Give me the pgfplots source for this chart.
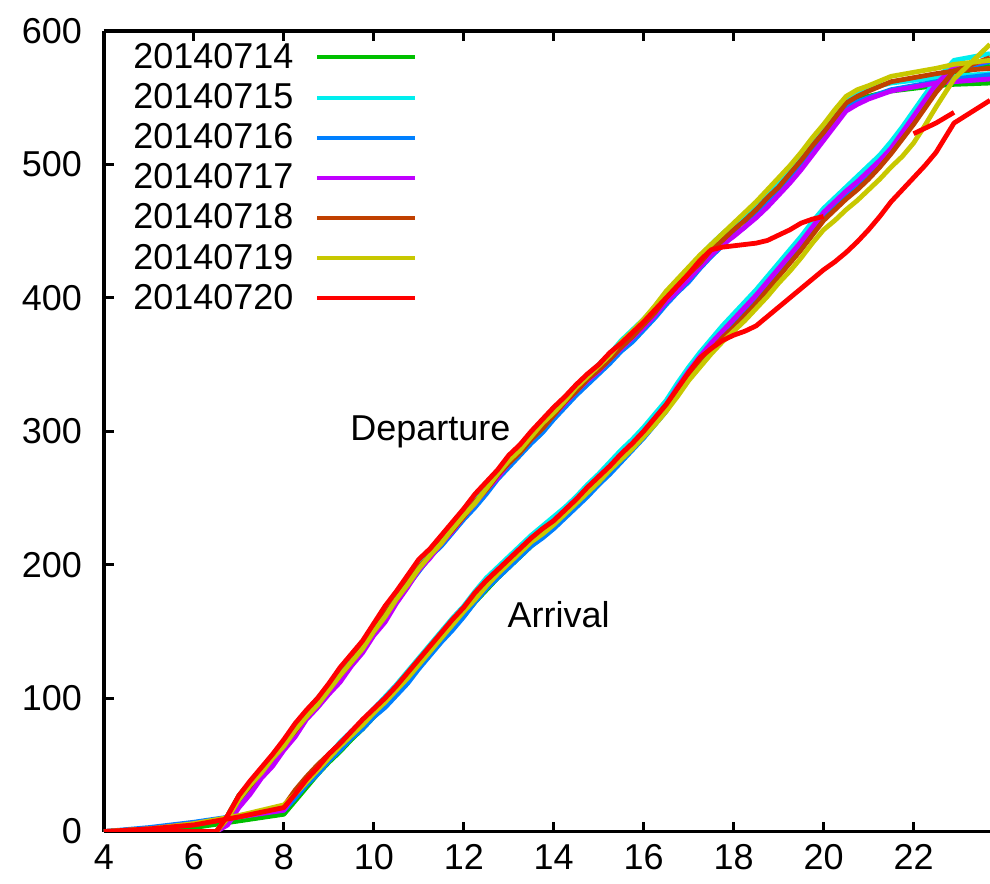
\documentclass[border=0pt]{standalone}
\usepackage{fontspec}
\setmainfont{Liberation Sans}
\usepackage{pgfplots}
\usepackage{pgfplotstable}
\pgfplotsset{compat=1.18}

% gnuplot-style line colours, one per day
\definecolor{c14}{RGB}{0,192,0}
\definecolor{c15}{RGB}{0,238,238}
\definecolor{c16}{RGB}{0,128,255}
\definecolor{c17}{RGB}{192,0,255}
\definecolor{c18}{RGB}{192,64,0}
\definecolor{c19}{RGB}{200,200,0}
\definecolor{c20}{RGB}{255,0,0}

% cumulative departures by hour of day
\pgfplotstableread{
h     d14 d15 d16 d17 d18 d19 d20
4.25  nan nan nan nan nan nan 0
4.5   0   nan nan nan nan nan 0
6.0   0   0   0   nan 0   0   0
6.5   0   0   0   0   0   0   0
6.75  12  11  8   5   10  10  12
7.0   27  26  22  18  24  24  27
7.25  37  35  31  28  34  35  38
7.5   46  47  43  40  45  44  48
7.75  57  56  53  49  55  55  58
8.0   66  68  64  61  66  64  69
8.25  78  78  74  71  75  76  81
8.5   88  90  86  84  87  86  91
8.75  97  100 95  93  98  95  100
9.0   108 109 105 103 107 106 111
9.25  117 120 116 112 117 117 123
9.5   128 130 126 124 127 127 133
9.75  140 141 136 134 139 137 143
10.0  151 153 149 147 150 150 156
10.25 163 164 160 157 163 161 169
10.5  175 177 172 171 174 174 180
10.75 186 189 184 183 187 185 192
11.0  198 199 195 196 198 197 204
11.25 208 210 206 205 207 207 212
11.5  217 219 214 216 217 216 222
11.75 228 229 224 225 226 227 232
12.0  237 239 234 236 236 237 242
12.25 247 250 243 246 247 246 253
12.5  257 259 253 256 256 257 262
12.75 267 268 264 265 267 268 271
13.0  277 279 273 276 276 278 282
13.25 286 289 282 285 284 286 290
13.5  295 297 291 294 294 296 300
13.75 305 306 299 304 302 306 309
14.0  313 315 309 312 312 314 318
14.25 323 325 318 321 322 323 326
14.5  331 334 327 330 330 333 335
14.75 339 342 335 338 339 341 343
15.0  347 350 343 345 346 349 350
15.25 356 358 351 354 354 357 359
15.5  364 368 360 362 363 367 366
15.75 371 376 367 370 371 375 374
16.0  380 384 376 378 380 384 382
16.25 390 393 385 387 389 394 391
16.5  400 404 395 397 400 405 400
16.75 408 413 404 405 409 414 409
17.0  418 422 412 414 418 423 418
17.25 427 431 422 423 426 432 428
17.5  436 440 431 432 436 440 436
17.75 444 448 439 440 443 448 438
18.0  451 455 447 446 451 456 439
18.25 459 463 453 453 458 464 440
18.5  467 471 462 460 466 472 441
18.75 476 479 472 468 475 481 443
19.0  484 488 480 477 483 490 447
19.25 493 498 489 486 493 499 451
19.5  503 508 500 496 503 509 456
19.75 513 519 511 507 514 520 459
20.0  524 529 521 518 524 530 461
20.25 535 540 532 529 535 541 nan
20.5  545 550 543 540 546 551 nan
20.75 549 554 547 545 551 556 nan
21.0  551 557 550 549 555 559 nan
21.5  555 561 556 555 562 566 nan
22.0  557 563 559 558 565 569 523
22.5  559 565 562 561 568 572 531
22.9  560 566 564 562 570 575 539
23.7  561 568 567 564 572 578 nan
}\departures

% cumulative arrivals by hour of day
\pgfplotstableread{
h     a14 a15 a16 a17 a18 a19 a20
4.0   0   0   0   0   0   0   0
5.0   1   2   3   2   2   2   2
6.0   3   6   7   6   5   6   5
7.0   8   11  12  11  11  12  11
8.0   13  17  16  16  19  20  18
8.25  23  28  25  29  31  28  28
8.5   33  39  35  40  41  37  39
8.75  43  48  43  49  50  46  48
9.0   52  57  53  58  58  55  58
9.25  60  67  61  66  66  64  66
9.5   69  75  70  75  74  72  75
9.75  77  83  77  83  83  80  84
10.0  86  92  86  92  91  89  92
10.25 94  101 93  100 99  97  100
10.5  103 110 102 109 108 106 109
10.75 113 120 111 118 118 115 119
11.0  123 130 122 128 127 125 129
11.25 133 140 132 138 137 135 139
11.5  143 150 142 148 148 145 149
11.75 152 160 151 158 157 155 159
12.0  162 169 161 168 167 165 168
12.25 172 180 172 178 176 174 179
12.5  181 190 182 188 186 184 188
12.75 190 198 190 196 194 193 196
13.0  198 206 198 204 202 201 204
13.25 206 214 206 212 210 209 212
13.5  214 222 214 220 218 217 220
13.75 221 229 220 226 224 223 227
14.0  228 236 227 233 231 230 233
14.25 236 243 235 241 239 238 241
14.5  244 251 243 249 247 246 249
14.75 253 260 251 257 256 254 258
15.0  261 268 260 266 264 262 266
15.25 269 277 268 274 272 271 274
15.5  278 286 277 283 281 279 283
15.75 287 294 286 291 289 287 291
16.0  296 303 295 300 297 296 300
16.25 306 313 305 310 306 305 310
16.5  316 323 315 320 316 315 320
16.75 329 336 328 333 329 326 332
17.0  341 348 340 345 341 338 344
17.25 352 359 351 356 351 348 355
17.5  362 369 362 366 361 358 362
17.75 371 379 371 375 370 367 368
18.0  380 388 380 384 378 375 372
18.25 389 397 389 393 387 383 375
18.5  398 406 398 402 396 392 379
18.75 408 416 408 412 406 401 386
19.0  418 426 418 422 416 411 393
19.25 428 436 428 432 426 420 400
19.5  438 446 438 442 436 430 407
19.75 449 457 449 453 447 441 414
20.0  459 467 460 464 458 451 421
20.25 467 475 468 472 466 458 427
20.5  475 483 476 480 474 466 434
20.75 482 491 484 487 481 473 442
21.0  490 499 492 495 489 481 451
21.25 499 507 501 503 498 489 461
21.5  509 517 511 512 508 498 472
21.75 521 528 523 524 519 506 481
22.0  533 540 535 536 530 516 490
22.25 544 552 547 548 542 529 499
22.5  555 563 558 560 554 543 509
22.9  568 578 571 573 570 564 531
23.7  574 583 577 578 580 590 548
}\arrivals

\begin{document}
\begin{tikzpicture}
\begin{axis}[
  scale only axis,
  width=443.25pt, height=400.5pt,
  xmin=4, xmax=23.7, ymin=0, ymax=600,
  xtick={4,6,...,22}, ytick={0,100,...,600},
  axis x line=box, axis y line=left,
  x axis line style={-}, y axis line style={-},
  axis line style={line width=1.6pt},
  tick align=inside, xtick pos=both, ytick pos=left,
  major tick length=5pt,
  tick style={line width=1.5pt, black},
  tick label style={font=\fontsize{18}{20}\selectfont},
  /pgf/number format/assume math mode=true,
  xticklabel style={yshift=-3pt},
  yticklabel style={xshift=-7.5pt},
  unbounded coords=jump,
  every axis plot/.append style={line width=2.4pt, line join=round},
  legend plot pos=right,
  legend cell align=right,
  legend image code/.code={\draw[#1,line width=2pt] (0pt,0pt) -- (49pt,0pt);},
  legend style={draw=none, fill=none, inner sep=0pt,
    at={(rel axis cs:0.0327,0.985)}, anchor=north west,
    font=\fontsize{18}{20}\selectfont,
    row sep=6pt,
    nodes={inner sep=0pt},
    /tikz/every even column/.append style={column sep=11pt},
    /tikz/every odd column/.append style={column sep=11pt}},
]
\addplot[c14] table[x=h,y=d14] {\departures};
\addlegendentry{20140714}
\addplot[c14, forget plot] table[x=h,y=a14] {\arrivals};
\addplot[c15] table[x=h,y=d15] {\departures};
\addlegendentry{20140715}
\addplot[c15, forget plot] table[x=h,y=a15] {\arrivals};
\addplot[c16] table[x=h,y=d16] {\departures};
\addlegendentry{20140716}
\addplot[c16, forget plot] table[x=h,y=a16] {\arrivals};
\addplot[c17] table[x=h,y=d17] {\departures};
\addlegendentry{20140717}
\addplot[c17, forget plot] table[x=h,y=a17] {\arrivals};
\addplot[c18] table[x=h,y=d18] {\departures};
\addlegendentry{20140718}
\addplot[c18, forget plot] table[x=h,y=a18] {\arrivals};
\addplot[c19] table[x=h,y=d19] {\departures};
\addlegendentry{20140719}
\addplot[c19, forget plot] table[x=h,y=a19] {\arrivals};
\addplot[c20] table[x=h,y=d20] {\departures};
\addlegendentry{20140720}
\addplot[c20, forget plot] table[x=h,y=a20] {\arrivals};

\node[anchor=base, font=\fontsize{18}{20}\selectfont] at (axis cs:11.26,293) {Departure};
\node[anchor=base, font=\fontsize{18}{20}\selectfont] at (axis cs:14.11,152.6) {Arrival};
\end{axis}
% page: room for tick labels on the left and below, cut at the right end of the x range
\pgfresetboundingbox
\useasboundingbox ([xshift=-52pt,yshift=-26pt]current axis.south west)
  rectangle ([yshift=15.5pt]current axis.north east);
\end{tikzpicture}
\end{document}
